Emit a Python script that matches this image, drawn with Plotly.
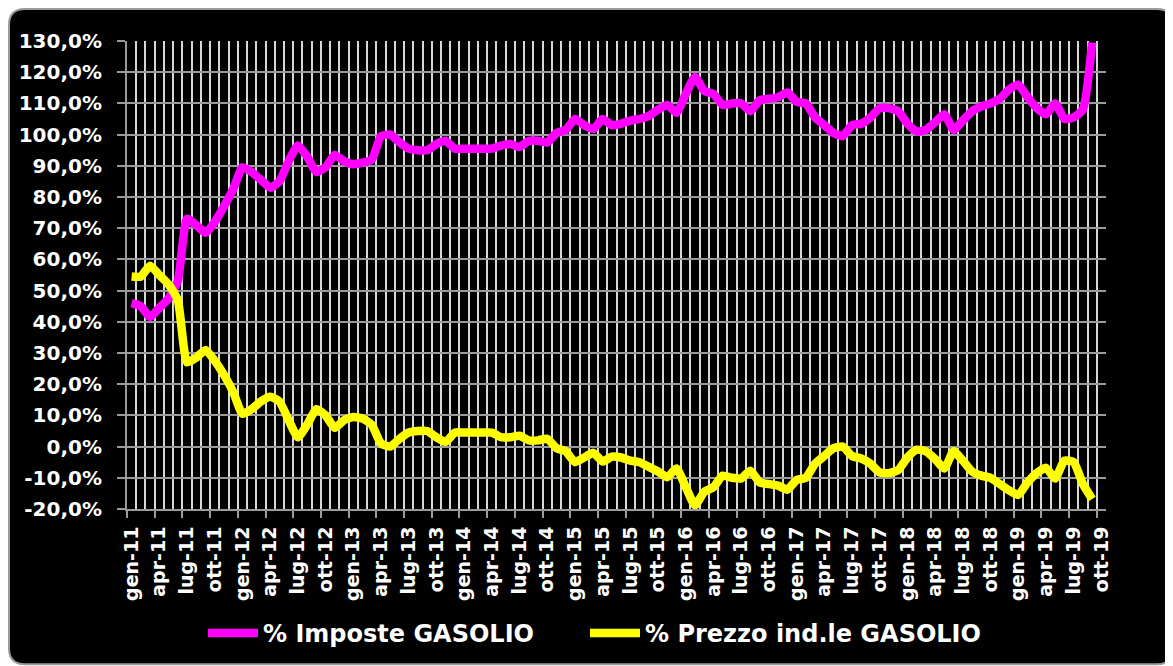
import plotly.graph_objects as go

# ---- data (monthly, gen-11 .. set-19) ----
imposte = [46, 45, 41.5, 44.5, 47.5, 53, 73, 71, 68.5, 72,
           77, 82.5, 89.5, 88, 85.5, 83, 85, 91.5, 96.5, 93,
           88, 89.5, 93.5, 91.5, 90.5, 91, 92, 99.5, 100, 97.5,
           95.5, 95, 95, 97, 98, 95.5, 95.5, 95.5, 95.5, 95.5,
           96.5, 97, 96, 98, 98, 97.5, 100.5, 101.5, 105, 103,
           101.8, 105, 103, 103.5, 104.5, 105, 106, 108, 109.5, 107,
           113, 118.5, 114, 113, 109.5, 110, 110, 107.5, 111, 111.5,
           112, 113.5, 110.5, 110, 105.5, 103, 100.5, 99.5, 103, 103.5,
           105.5, 108.5, 108.5, 107.5, 103.5, 101, 101.5, 104, 106.5, 101.5,
           104.5, 107.5, 109, 110, 111.5, 114.5, 116, 112, 108.5, 106.5,
           110, 105, 105.5, 108, 129.5]
prezzo = [54.5, 54.5, 58, 55, 52, 47, 27, 28.5, 31, 27.5,
          23, 17.5, 10.5, 12, 14.5, 16, 14.5, 8.5, 3, 7,
          12, 10, 6, 8.5, 9.5, 9, 7, 1, 0, 2.5,
          4.5, 5, 5, 3, 1.5, 4.5, 4.5, 4.5, 4.5, 4.5,
          3, 3, 3.5, 2, 2, 2.5, -0.5, -1.5, -5, -3.5,
          -2, -4.8, -3.2, -3.5, -4.5, -5, -6.5, -8, -9.8, -7,
          -13, -18.8, -14.5, -13, -9.3, -10, -10.2, -7.7, -11.5, -12,
          -12.5, -13.8, -10.7, -10, -5.5, -3, -0.5, 0, -3, -3.8,
          -5.5, -8.3, -8.5, -7.5, -3.5, -1, -1.5, -4, -7, -1.5,
          -4.5, -8, -9.3, -10, -12, -14, -15.5, -11.5, -8.5, -6.8,
          -10.2, -4.5, -5, -12, -16.8]

months = ["gen", "feb", "mar", "apr", "mag", "giu", "lug", "ago", "set", "ott", "nov", "dic"]
years = ["11", "12", "13", "14", "15", "16", "17", "18", "19"]
categories = [f"{m}-{y}" for y in years for m in months][:106]  # gen-11 .. ott-19
x_tick_idx = list(range(0, len(categories), 3))
x_tick_text = [categories[i] for i in x_tick_idx]

y_tick_vals = [-20, -10, 0, 10, 20, 30, 40, 50, 60, 70, 80, 90, 100, 110, 120, 130]
y_tick_text = ["-20,0%", "-10,0%", "0,0%", "10,0%", "20,0%", "30,0%", "40,0%", "50,0%",
               "60,0%", "70,0%", "80,0%", "90,0%", "100,0%", "110,0%", "120,0%", "130,0%"]

series_names = ["% Imposte GASOLIO", "% Prezzo ind.le GASOLIO"]
series_colors = ["#FF00FF", "#FFFF00"]

# ---- geometry (page offset of 8px from the default body margin) ----
OFF = 8
W, H = 1173 - OFF, 666 - OFF
PL, PR, PT, PB = 127, 1106, 41, 509.5      # plot area in page pixels
ML, MT = PL - OFF, PT - OFF
MR = W - (PR - OFF)
MB = H - (PB - OFF)
PW, PH = W - ML - MR, H - MT - MB

FONT = "DejaVu Sans"


def px_x(p):  # page pixel -> paper fraction
    return (p - OFF - ML) / PW


def px_y(p):
    return (H - MB - (p - OFF)) / PH


fig = go.Figure()
for name, vals, col, leg in zip(series_names, [imposte, prezzo], series_colors, ["legend", "legend2"]):
    fig.add_trace(go.Scatter(
        x=list(range(len(vals))), y=vals, name=name, mode="lines", legend=leg,
        line=dict(color=col, width=8.5, shape="spline", smoothing=0.5),
    ))

L, R, T, B, r = 9, 1173, 9, 665, 16
path = (f"M {px_x(L + r)} {px_y(T)} L {px_x(R - r)} {px_y(T)} "
        f"Q {px_x(R)} {px_y(T)} {px_x(R)} {px_y(T + r)} "
        f"L {px_x(R)} {px_y(B - r)} Q {px_x(R)} {px_y(B)} {px_x(R - r)} {px_y(B)} "
        f"L {px_x(L + r)} {px_y(B)} Q {px_x(L)} {px_y(B)} {px_x(L)} {px_y(B - r)} "
        f"L {px_x(L)} {px_y(T + r)} Q {px_x(L)} {px_y(T)} {px_x(L + r)} {px_y(T)} Z")

legend_style = dict(orientation="h", xanchor="left", yanchor="middle", y=px_y(634),
                    font=dict(family=FONT, size=24, color="white", weight="bold"),
                    bgcolor="rgba(0,0,0,0)", itemwidth=50)

xr = [-0.5, len(categories) - 0.5]
fig.update_layout(
    width=W, height=H,
    margin=dict(l=ML, r=MR, t=MT, b=MB, autoexpand=False),
    paper_bgcolor="white",
    plot_bgcolor="black",
    shapes=[dict(type="path", xref="paper", yref="paper", path=path,
                 fillcolor="black", line=dict(color="#9a9a9a", width=2), layer="below")],
    xaxis=dict(
        range=xr, tickmode="array", tickvals=x_tick_idx, ticktext=x_tick_text,
        tickangle=-90, ticks="", showgrid=False, zeroline=False,
        showline=True, linecolor="#9a9a9a", linewidth=2,
        tickfont=dict(family=FONT, size=19, color="white", weight="bold"),
        ticklabelstandoff=8,
        minor=dict(tick0=-0.5, dtick=1, showgrid=True, gridcolor="#d8d8d8", gridwidth=1.5, ticks=""),
    ),
    xaxis2=dict(
        range=xr, overlaying="x", anchor="y", side="bottom",
        tickmode="array", tickvals=[i - 0.5 for i in x_tick_idx],
        ticks="outside", ticklen=8, tickwidth=2, tickcolor="#9a9a9a",
        showticklabels=False, showgrid=False, zeroline=False, showline=False,
    ),
    yaxis=dict(
        range=[-20, 130], tickmode="array", tickvals=y_tick_vals, ticktext=y_tick_text,
        ticks="outside", ticklen=8, tickwidth=2, tickcolor="#9a9a9a",
        showgrid=True, gridcolor="#9a9a9a", gridwidth=1.5, zeroline=False,
        showline=True, linecolor="#9a9a9a", linewidth=2,
        tickfont=dict(family=FONT, size=20, color="white", weight="bold"),
        ticklabelstandoff=11,
    ),
    legend=dict(x=px_x(203), **legend_style),
    legend2=dict(x=px_x(585), **legend_style),
)
fig.add_trace(go.Scatter(x=[None], y=[None], xaxis="x2", showlegend=False, hoverinfo="skip"))

fig.write_html("out.html")
